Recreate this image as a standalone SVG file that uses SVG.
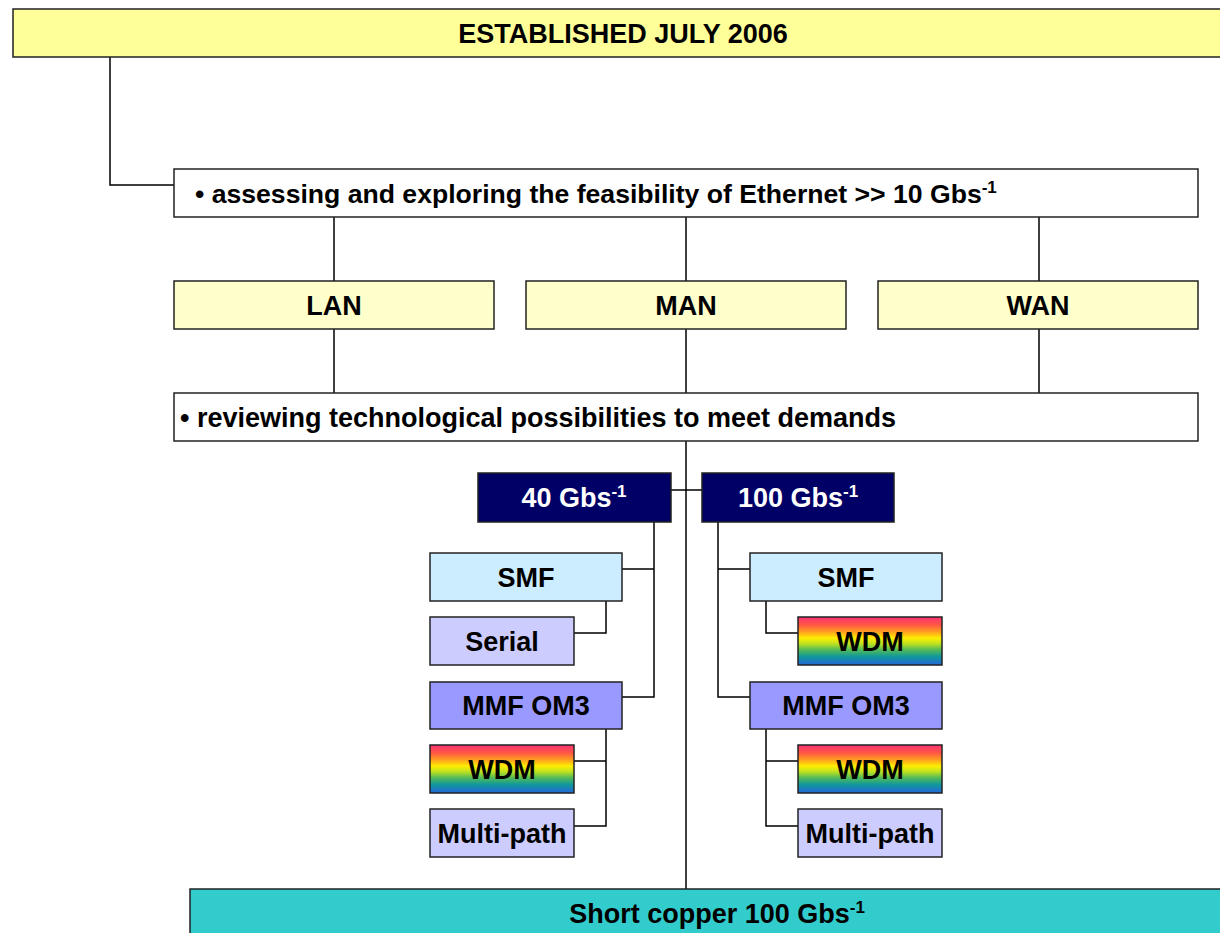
<svg xmlns="http://www.w3.org/2000/svg" width="1220" height="933" viewBox="0 0 1220 933">
<style>
.b{stroke:#222;stroke-width:1.5}
.t{font-family:"Liberation Sans",Arial,sans-serif;font-weight:bold;font-size:27px;fill:#000}
.m{text-anchor:middle}
.w{fill:#fff}
.s{font-size:17px}
.c{fill:none;stroke:#000;stroke-width:1.5}
</style>
<defs>
<linearGradient id="rb" x1="0" y1="0" x2="0" y2="1">
<stop offset="0" stop-color="#FF3377"/>
<stop offset="0.16" stop-color="#FF5544"/>
<stop offset="0.3" stop-color="#FF9922"/>
<stop offset="0.44" stop-color="#FFEE00"/>
<stop offset="0.56" stop-color="#BBE022"/>
<stop offset="0.68" stop-color="#55BB55"/>
<stop offset="0.82" stop-color="#119999"/>
<stop offset="1" stop-color="#2266DD"/>
</linearGradient>
</defs>
<rect width="1220" height="933" fill="#fff"/>
<g id="connectors" class="c">
<path d="M110 57V185H174"/>
<path d="M334 217V281M686 217V281M1039 217V281"/>
<path d="M334 329V393M686 329V393M1039 329V393"/>
<path d="M686 441V889"/>
<path d="M671 490H702"/>
<path d="M654 522V697H622M622 569H654"/>
<path d="M606 601V633H574"/>
<path d="M606 729V826H574M574 761H606"/>
<path d="M718 522V697H750M718 569H750"/>
<path d="M766 601V633H798"/>
<path d="M766 729V826H798M766 761H798"/>
</g>
<g id="established"><rect class="b" x="13" y="9" width="1220" height="48" fill="#FFFF99"/><text class="t m" x="623" y="43">ESTABLISHED JULY 2006</text></g>
<g id="assessing"><rect class="b" x="174" y="169" width="1024" height="48" fill="#fff"/><text class="t" x="195" y="203" style="font-size:26.6px">• assessing and exploring the feasibility of Ethernet &gt;&gt; 10 Gbs<tspan class="s" dy="-10">-1</tspan></text></g>
<g id="lan"><rect class="b" x="174" y="281" width="320" height="48" fill="#FFFFCC"/><text class="t m" x="334" y="315">LAN</text></g>
<g id="man"><rect class="b" x="526" y="281" width="320" height="48" fill="#FFFFCC"/><text class="t m" x="686" y="315">MAN</text></g>
<g id="wan"><rect class="b" x="878" y="281" width="320" height="48" fill="#FFFFCC"/><text class="t m" x="1038" y="315">WAN</text></g>
<g id="reviewing"><rect class="b" x="174" y="393" width="1024" height="48" fill="#fff"/><text class="t" x="180" y="427">• reviewing technological possibilities to meet demands</text></g>
<g id="g40"><rect class="b" x="478" y="473" width="193" height="49" fill="#000066"/><text class="t m w" x="574" y="507">40 Gbs<tspan class="s" dy="-10">-1</tspan></text></g>
<g id="g100"><rect class="b" x="702" y="473" width="192" height="49" fill="#000066"/><text class="t m w" x="798" y="507">100 Gbs<tspan class="s" dy="-10">-1</tspan></text></g>
<g id="smf40"><rect class="b" x="430" y="553" width="192" height="48" fill="#CCECFF"/><text class="t m" x="526" y="587">SMF</text></g>
<g id="serial40"><rect class="b" x="430" y="617" width="144" height="48" fill="#CCCCFF"/><text class="t m" x="502" y="651">Serial</text></g>
<g id="mmf40"><rect class="b" x="430" y="682" width="192" height="47" fill="#9999FF"/><text class="t m" x="526" y="715">MMF OM3</text></g>
<g id="wdm40"><rect class="b" x="430" y="745" width="144" height="48" fill="url(#rb)"/><text class="t m" x="502" y="779">WDM</text></g>
<g id="multi40"><rect class="b" x="430" y="809" width="144" height="48" fill="#CCCCFF"/><text class="t m" x="502" y="843">Multi-path</text></g>
<g id="smf100"><rect class="b" x="750" y="553" width="192" height="48" fill="#CCECFF"/><text class="t m" x="846" y="587">SMF</text></g>
<g id="wdm100a"><rect class="b" x="798" y="617" width="144" height="48" fill="url(#rb)"/><text class="t m" x="870" y="651">WDM</text></g>
<g id="mmf100"><rect class="b" x="750" y="682" width="192" height="47" fill="#9999FF"/><text class="t m" x="846" y="715">MMF OM3</text></g>
<g id="wdm100b"><rect class="b" x="798" y="745" width="144" height="48" fill="url(#rb)"/><text class="t m" x="870" y="779">WDM</text></g>
<g id="multi100"><rect class="b" x="798" y="809" width="144" height="48" fill="#CCCCFF"/><text class="t m" x="870" y="843">Multi-path</text></g>
<g id="copper"><rect class="b" x="190" y="889" width="1054" height="48" fill="#33CCCC"/><text class="t m" x="717" y="923">Short copper 100 Gbs<tspan class="s" dy="-10">-1</tspan></text></g>
</svg>
